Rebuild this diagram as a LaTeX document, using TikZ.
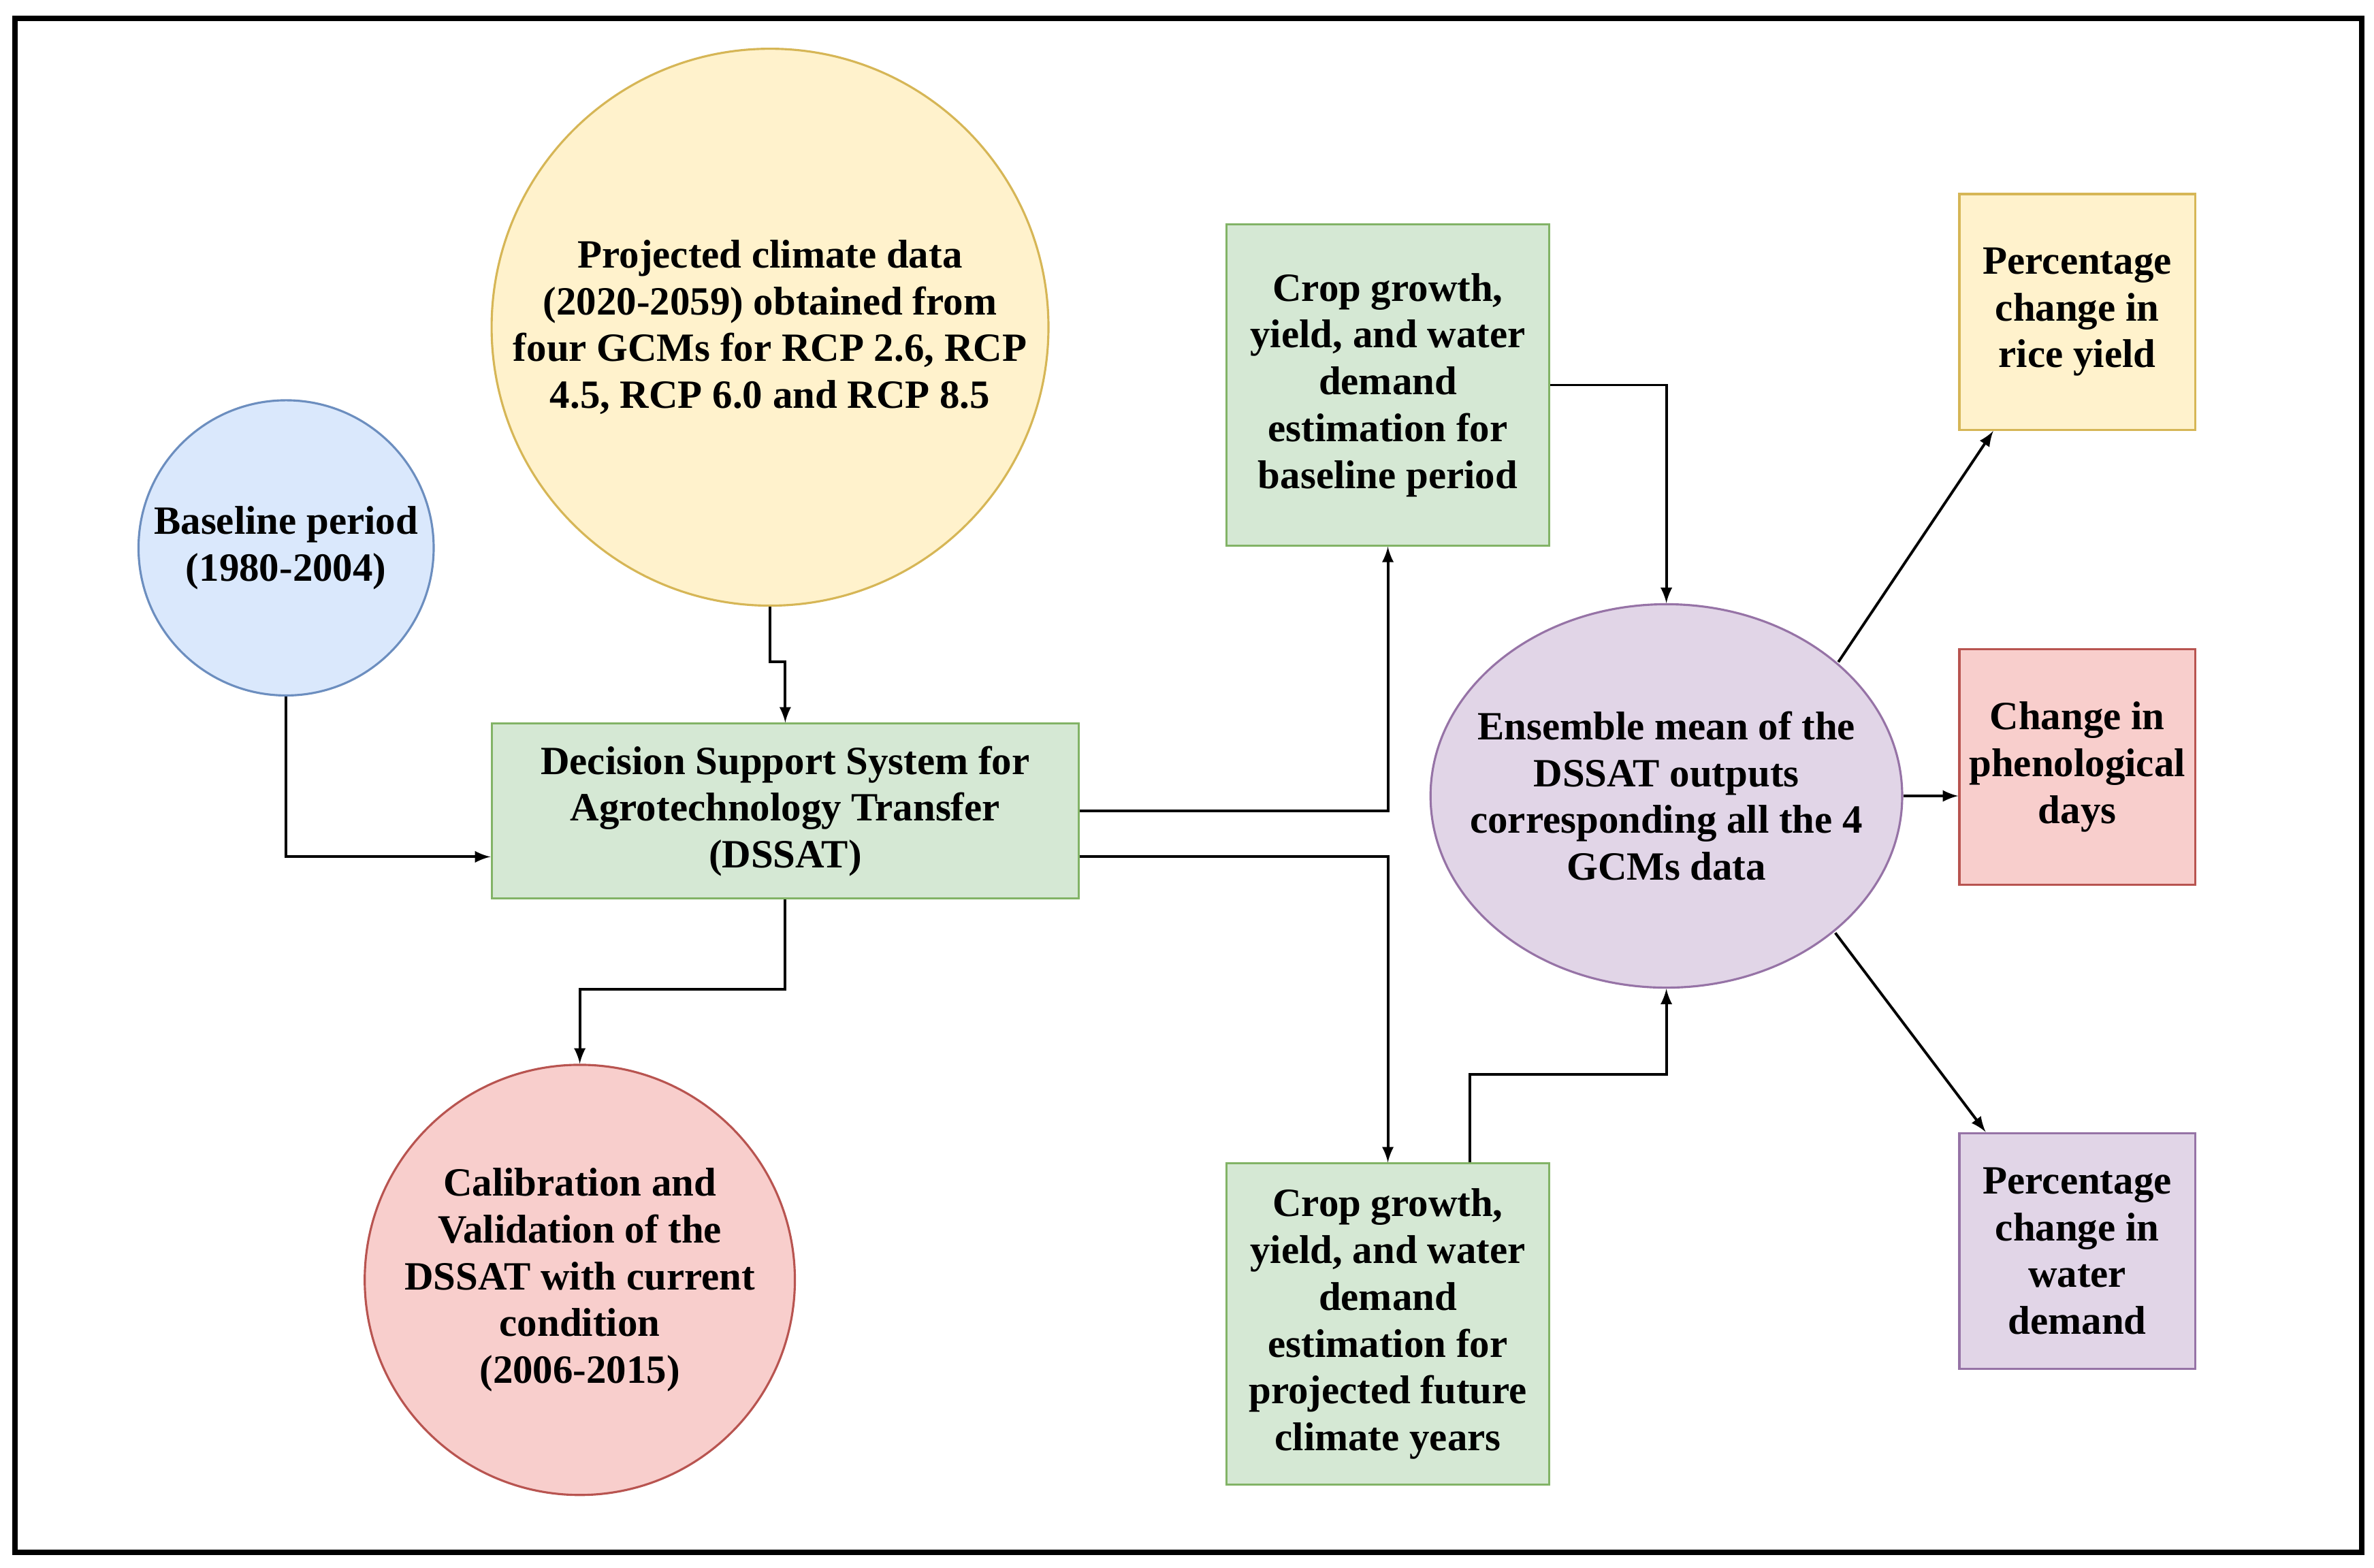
\documentclass[tikz,border=0pt]{standalone}
\usepackage{fontspec}
\setmainfont{Liberation Serif}
\usetikzlibrary{calc,positioning,shapes.geometric}
\definecolor{bfill}{HTML}{DAE8FC}\definecolor{bline}{HTML}{6C8EBF}
\definecolor{yfill}{HTML}{FFF2CC}\definecolor{yline}{HTML}{D6B656}
\definecolor{gfill}{HTML}{D5E8D4}\definecolor{gline}{HTML}{82B366}
\definecolor{rfill}{HTML}{F8CECC}\definecolor{rline}{HTML}{B85450}
\definecolor{pfill}{HTML}{E1D5E7}\definecolor{pline}{HTML}{9673A6}

\begin{document}
\begin{tikzpicture}[x=0.02cm,y=-0.02cm,
  every node/.style={font=\fontsize{15}{17.5}\selectfont\bfseries,align=center,line width=0.8pt,inner sep=2pt},
  blue/.style={circle,draw=bline,fill=bfill},
  yellow/.style={draw=yline,fill=yfill},
  green/.style={rectangle,draw=gline,fill=gfill},
  red/.style={draw=rline,fill=rfill},
  purple/.style={draw=pline,fill=pfill},
  link/.style={-latex,line width=1pt}]

\useasboundingbox (0,0) rectangle (1560,1030);
\draw[line width=2pt] (10,12) rectangle (1552,1020);

\node[blue,minimum size=3.88cm] (base) at (188,360) {Baseline period\\(1980-2004)};
\node[yellow,circle,minimum size=7.32cm] (proj) at (506,215) {Projected climate data\\(2020-2059) obtained from\\four GCMs for RCP 2.6, RCP\\4.5, RCP 6.0 and RCP 8.5};
\node[green,minimum width=7.72cm,minimum height=2.3cm] (dssat) at (516,533) {Decision Support System for\\Agrotechnology Transfer\\(DSSAT)};
\node[red,circle,minimum size=5.4cm] (calib) at (381,841) {Calibration and\\Validation of the\\DSSAT with current\\condition\\(2006-2015)};
\node[green,minimum width=4.24cm,minimum height=4.22cm] (cropb) at (912,253) {Crop growth,\\yield, and water\\demand\\estimation for\\baseline period};
\node[green,minimum width=4.24cm,minimum height=4.22cm] (cropf) at (912,870) {Crop growth,\\yield, and water\\demand\\estimation for\\projected future\\climate years};
\node[purple,ellipse,minimum width=6.2cm,minimum height=5.04cm,inner xsep=-12pt,inner ysep=0pt] (ens) at (1095,523) {Ensemble mean of\ the\\DSSAT outputs\\corresponding all the 4\\GCMs data};
\node[yellow,minimum size=3.1cm] (rice) at (1365,205) {Percentage\\change in\\rice yield};
\node[red,minimum size=3.1cm] (phen) at (1365,504) {Change in\\phenological\\days};
\node[purple,minimum size=3.1cm] (water) at (1365,822) {Percentage\\change in\\water\\demand};

\draw[link] (base.south) |- ($(dssat.west)+(0,30)$);
\draw[link] (proj.south) -- ++(0,36) -| (dssat.north);
\draw[link] (dssat.south) -- ++(0,59) -| (calib.north);
\draw[link] (dssat.east) -| (cropb.south);
\draw[link] ($(dssat.east)+(0,30)$) -| (cropf.north);
\draw[link] (cropb.east) -| (ens.north);
\draw[link] ($(cropf.north)+(54,0)$) -- ++(0,-58) -| (ens.south);
\draw[link] ($(ens.center)+(113,-88)$) -- ($(rice.south west)+(23,0)$);
\draw[link] (ens.east) -- (phen.west |- ens.east);
\draw[link] ($(ens.center)+(111,90)$) -- ($(water.north west)+(18,0)$);

\end{tikzpicture}
\end{document}
